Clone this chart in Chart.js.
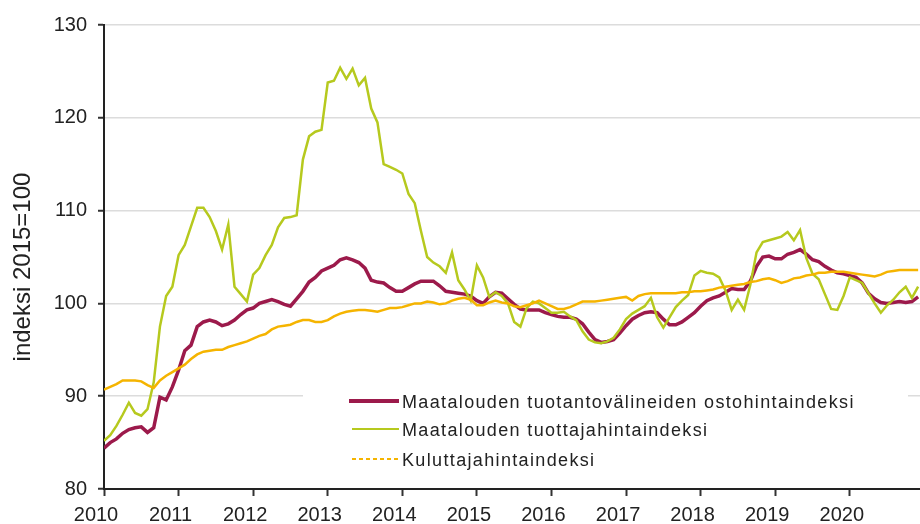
<!DOCTYPE html>
<html>
<head>
<meta charset="utf-8">
<script src="https://cdn.jsdelivr.net/npm/chart.js@4.4.1/dist/chart.umd.min.js"></script>
<style>
  html, body { margin: 0; padding: 0; background: #fff; }
  #wrap { width: 920px; height: 524px; }
</style>
</head>
<body>
<div id="wrap"><canvas id="chart"></canvas></div>
<script>
// monthly values, Jan 2010 .. Dec 2020
const yearLabels = ['2010', '2011', '2012', '2013', '2014', '2015', '2016', '2017', '2018', '2019', '2020'];
const seriesNames = [
    'Maatalouden tuotantovälineiden ostohintaindeksi',
    'Maatalouden tuottajahintaindeksi',
    'Kuluttajahintaindeksi'
];
const yTitle = 'indeksi 2015=100';

const purchaseIndex = [
    84.4, 85.0, 85.4, 86.0, 86.4, 86.6, 86.7, 86.1, 86.6, 89.9, 89.6, 91.0,
    92.8, 94.9, 95.5, 97.5, 98.0, 98.2, 98.0, 97.6, 97.8, 98.2, 98.8, 99.3,
    99.5, 100.0, 100.2, 100.4, 100.2, 99.9, 99.7, 100.5, 101.3, 102.3, 102.8, 103.5,
    103.8, 104.1, 104.7, 104.9, 104.7, 104.4, 103.8, 102.5, 102.3, 102.2, 101.7, 101.3,
    101.3, 101.7, 102.1, 102.4, 102.4, 102.4, 101.9, 101.3, 101.2, 101.1, 101.0, 100.8,
    100.3, 100.0, 100.7, 101.2, 101.1, 100.5, 99.9, 99.4, 99.3, 99.3, 99.3, 99.0,
    98.8, 98.6, 98.5, 98.5, 98.3, 97.8, 96.9, 96.1, 95.8, 95.9, 96.1, 96.8,
    97.6, 98.3, 98.7, 99.0, 99.1, 99.0, 98.3, 97.7, 97.7, 98.0, 98.5, 99.0,
    99.7, 100.3, 100.6, 100.8, 101.2, 101.6, 101.5, 101.5, 102.4, 104.0, 105.0, 105.1,
    104.8, 104.8, 105.3, 105.5, 105.8, 105.3, 104.7, 104.5, 104.0, 103.6, 103.3, 103.2,
    103.0, 102.8, 102.2, 101.1, 100.5, 100.1, 100.0, 100.1, 100.2, 100.1, 100.2, 100.7
];

const producerIndex = [
    85.2, 85.8, 86.8, 88.0, 89.3, 88.2, 87.9, 88.6, 91.5, 97.5, 100.8, 101.8,
    105.2, 106.3, 108.3, 110.3, 110.3, 109.3, 107.8, 105.8, 108.5, 101.8, 101.0, 100.2,
    103.1, 103.8, 105.2, 106.3, 108.2, 109.2, 109.3, 109.5, 115.5, 118.0, 118.5, 118.7,
    123.8, 124.0, 125.4, 124.2, 125.3, 123.5, 124.3, 121.0, 119.5, 115.0, 114.7, 114.4,
    114.0, 111.8, 110.8, 107.8, 105.0, 104.4, 104.0, 103.3, 105.5, 102.5, 101.5, 100.3,
    104.1, 102.8, 100.7, 101.2, 100.8, 100.0, 98.0, 97.5, 99.5, 100.2, 100.0, 99.5,
    99.0, 99.0, 99.1, 98.6, 98.2, 97.0, 96.1, 95.8, 95.7, 95.9, 96.3, 97.2,
    98.3, 98.9, 99.3, 99.7, 100.6, 98.5, 97.4, 98.5, 99.6, 100.3, 100.9, 103.0,
    103.5, 103.3, 103.2, 102.8, 101.4, 99.3, 100.4, 99.3, 102.0, 105.5, 106.6, 106.8,
    107.0, 107.2, 107.7, 106.8, 107.9, 104.9, 103.2, 102.6, 101.0, 99.4, 99.3, 100.8,
    102.8, 102.5, 102.2, 101.1, 100.0, 99.0, 99.8, 100.4, 101.2, 101.8, 100.6, 101.8
];

const consumerIndex = [
    90.7, 91.0, 91.3, 91.7, 91.7, 91.7, 91.6, 91.2, 90.9, 91.7, 92.2, 92.6,
    93.0, 93.4, 94.0, 94.5, 94.8, 94.9, 95.0, 95.0, 95.3, 95.5, 95.7, 95.9,
    96.2, 96.5, 96.7, 97.2, 97.5, 97.6, 97.7, 98.0, 98.2, 98.2, 98.0, 98.0,
    98.2, 98.6, 98.9, 99.1, 99.2, 99.3, 99.3, 99.2, 99.1, 99.3, 99.5, 99.5,
    99.6, 99.8, 100.0, 100.0, 100.2, 100.1, 99.9, 100.0, 100.3, 100.5, 100.6, 100.4,
    99.8, 99.8, 100.1, 100.3, 100.1, 100.0, 99.7, 99.6, 99.8, 100.0, 100.3, 100.0,
    99.7, 99.4, 99.4, 99.6, 99.9, 100.2, 100.2, 100.2, 100.3, 100.4, 100.5, 100.6,
    100.7, 100.3, 100.8, 101.0, 101.1, 101.1, 101.1, 101.1, 101.1, 101.2, 101.2, 101.3,
    101.3, 101.4, 101.5, 101.7, 101.8, 101.9, 102.0, 102.1, 102.3, 102.4, 102.6, 102.7,
    102.5, 102.2, 102.4, 102.7, 102.8, 103.0, 103.1, 103.3, 103.3, 103.4, 103.4, 103.4,
    103.3, 103.2, 103.1, 103.0, 102.9, 103.1, 103.4, 103.5, 103.6, 103.6, 103.6, 103.6
];

const yTicks = [80, 90, 100, 110, 120, 130];
const colors = ['#9c1a4b', '#b6c91e', '#f5b400'];
const fontFamily = '"Liberation Sans", Arial, sans-serif';

const toPoints = arr => arr.map((v, i) => ({ x: i, y: v }));

// legend box inside the plot (under the lines) + rotated y title
const boxLegend = {
    id: 'boxLegend',
    beforeDatasetsDraw(chart) {
        const ctx = chart.ctx;
        ctx.save();
        ctx.fillStyle = '#fff';
        ctx.fillRect(303, 382, 605, 96);
        ctx.font = '18px ' + fontFamily;
        ctx.letterSpacing = '1.35px';
        ctx.fillStyle = '#222';
        ctx.textBaseline = 'middle';
        const rows = [402, 430, 460];
        seriesNames.forEach((name, i) => {
            const y = rows[i];
            ctx.beginPath();
            ctx.strokeStyle = colors[i];
            ctx.lineWidth = i === 0 ? 4 : 2;
            ctx.setLineDash(i === 2 ? [4, 3] : []);
            ctx.moveTo(i === 0 ? 349 : 352, y - 1);
            ctx.lineTo(399, y - 1);
            ctx.stroke();
            ctx.setLineDash([]);
            ctx.fillText(name, 402, y + 1);
        });
        ctx.restore();
    },
    afterDraw(chart) {
        const ctx = chart.ctx;
        ctx.save();
        ctx.translate(23, 267);
        ctx.rotate(-Math.PI / 2);
        ctx.font = '24px ' + fontFamily;
        ctx.fillStyle = '#222';
        ctx.textAlign = 'center';
        ctx.textBaseline = 'middle';
        ctx.fillText(yTitle, 0, 0);
        ctx.restore();
    }
};

const ctx = document.getElementById('chart').getContext('2d');
const chart = new Chart(ctx, {
    type: 'line',
    data: {
        datasets: [
            { label: seriesNames[0], data: toPoints(purchaseIndex), borderColor: colors[0], borderWidth: 3.5, order: 2 },
            { label: seriesNames[1], data: toPoints(producerIndex), borderColor: colors[1], borderWidth: 2.5, order: 1 },
            { label: seriesNames[2], data: toPoints(consumerIndex), borderColor: colors[2], borderWidth: 2.5, order: 0 }
        ]
    },
    options: {
        responsive: true,
        maintainAspectRatio: false,
        animation: false,
        layout: { padding: { top: 25, right: 0, bottom: 0, left: 0 } },
        elements: { point: { radius: 0 }, line: { tension: 0 } },
        plugins: { legend: { display: false }, tooltip: { enabled: false } },
        scales: {
            x: {
                type: 'linear',
                min: 0,
                max: 131.3,
                afterBuildTicks: scale => {
                    scale.ticks = yearLabels.map((y, i) => ({ value: i * 12 }));
                },
                afterFit: scale => { scale.height = 35; },
                grid: { drawOnChartArea: false, tickLength: 7, tickColor: '#333', tickWidth: 2 },
                border: { color: '#222', width: 2 },
                ticks: {
                    callback: v => yearLabels[v / 12],
                    autoSkip: false,
                    maxRotation: 0,
                    padding: 9,
                    labelOffset: -8,
                    color: '#222',
                    font: { family: fontFamily, size: 20, lineHeight: 1 }
                }
            },
            y: {
                min: 80,
                max: 130,
                afterBuildTicks: scale => {
                    scale.ticks = yTicks.map(v => ({ value: v }));
                },
                afterFit: scale => { scale.width = 104; },
                grid: { color: '#dcdcdc', lineWidth: 1.5, tickLength: 6, tickColor: '#333', tickWidth: 2 },
                border: { color: '#222', width: 2 },
                ticks: {
                    padding: 11,
                    color: '#222',
                    font: { family: fontFamily, size: 20 }
                }
            }
        }
    },
    plugins: [boxLegend]
});
</script>
</body>
</html>
